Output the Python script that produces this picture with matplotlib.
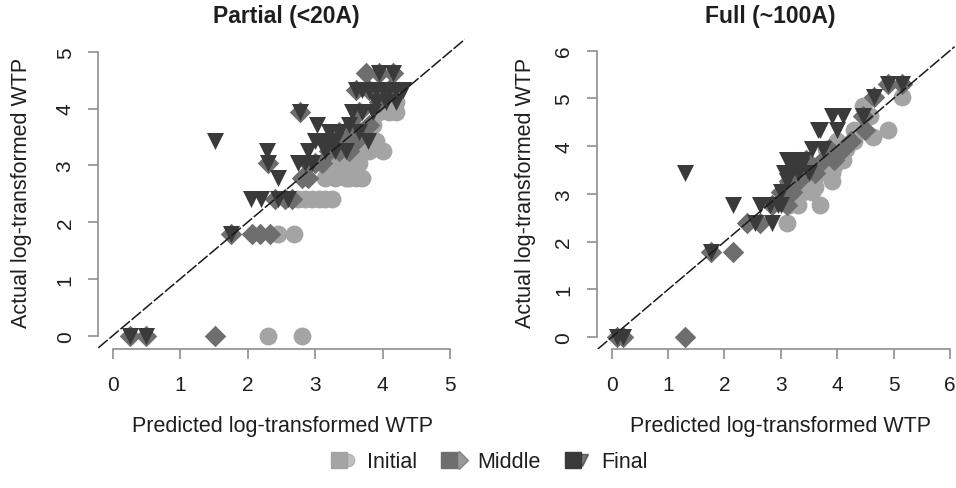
import numpy as np
import matplotlib
matplotlib.use("Agg")
import matplotlib.pyplot as plt
from matplotlib.lines import Line2D
from matplotlib.legend_handler import HandlerTuple

plt.rcParams['font.family'] = ['Liberation Sans', 'DejaVu Sans']

# ---- data: predicted (x) vs actual (y) log-transformed WTP
# Partial (<20A)
init_l_x = [2.3, 2.8, 2.45, 2.68, 2.75, 2.85, 2.95, 3.05, 3.15, 3.15, 3.3, 3.45, 3.6, 3.7,
            3.1, 3.25, 3.4, 3.55, 3.65, 3.35, 3.6, 3.8, 4.0, 3.5, 3.7, 3.9, 3.75, 3.85,
            3.95, 4.1, 4.2, 4.2, 4.05, 3.25, 3.5]
init_l_y = [0, 0, 1.79, 1.79, 2.4, 2.4, 2.4, 2.4, 2.4, 2.77, 2.77, 2.77, 2.77, 2.77,
            3.04, 3.04, 3.04, 3.04, 3.04, 3.26, 3.26, 3.26, 3.26, 3.43, 3.43, 3.43, 3.58, 3.71,
            3.93, 3.93, 3.93, 4.11, 4.11, 2.4, 2.77]
mid_l_x = [0.25, 0.5, 1.52, 1.76, 2.06, 2.18, 2.33, 2.4, 2.55, 2.65, 2.8, 2.9, 2.3, 2.9,
           3.0, 3.1, 3.2, 3.35, 3.5, 3.25, 3.4, 3.6, 3.35, 3.5, 3.7, 3.55, 3.8, 2.78, 3.65,
           3.95, 3.76, 3.95, 4.15, 3.6, 3.8, 4.1]
mid_l_y = [0, 0, 0, 1.79, 1.79, 1.79, 1.79, 2.4, 2.4, 2.4, 2.77, 2.77, 3.04, 3.04,
           3.04, 3.04, 3.26, 3.26, 3.26, 3.43, 3.43, 3.43, 3.58, 3.58, 3.58, 3.71, 3.71, 3.93, 3.93,
           4.11, 4.62, 4.62, 4.62, 4.33, 4.33, 4.33]
fin_l_x = [0.25, 0.5, 1.76, 2.05, 2.2, 2.45, 2.6, 2.45, 2.3, 2.28, 1.52, 2.78, 2.75, 2.85,
           2.95, 2.9, 3.0, 3.1, 3.2, 3.3, 3.02, 3.2, 3.35, 3.5, 3.65, 3.78, 3.45, 3.55, 3.7,
           3.85, 3.6, 3.7, 3.8, 3.9, 4.0, 4.1, 4.2, 4.3, 3.9, 4.05, 4.2, 3.95, 4.15, 3.15, 3.3]
fin_l_y = [0, 0, 1.79, 2.4, 2.4, 2.4, 2.4, 2.77, 3.04, 3.26, 3.43, 3.93, 3.04, 3.04,
           3.04, 3.26, 3.43, 3.43, 3.43, 3.43, 3.71, 3.58, 3.58, 3.71, 3.58, 3.43, 3.26, 3.93, 3.93,
           3.93, 4.33, 4.33, 4.33, 4.33, 4.33, 4.33, 4.33, 4.33, 4.11, 4.11, 4.11, 4.62, 4.62, 3.26, 3.26]

# Full (~100A)
init_r_x = [3.1, 3.15, 3.3, 3.7, 3.55, 3.4, 3.5, 3.3, 3.9, 3.7, 3.9, 3.6, 3.95, 4.1,
            3.8, 4.15, 4.0, 4.3, 4.3, 4.63, 4.9, 4.45, 4.58, 5.15, 3.25, 3.6, 3.85]
init_r_y = [2.4, 2.77, 2.77, 2.77, 3.04, 3.04, 3.26, 3.26, 3.26, 3.43, 3.43, 3.58, 3.58, 3.71,
            3.93, 3.93, 4.11, 4.11, 4.33, 4.2, 4.33, 4.84, 4.62, 5.02, 2.95, 3.15, 3.5]
mid_r_x = [0.1, 0.2, 1.3, 1.77, 2.16, 2.4, 2.63, 2.85, 3.1, 3.0, 3.2, 3.15, 3.3, 3.4,
           3.6, 3.3, 3.5, 3.45, 3.75, 3.95, 3.85, 4.1, 4.25, 4.5, 4.45, 4.65, 4.9, 5.15]
mid_r_y = [0, 0, 0, 1.79, 1.79, 2.4, 2.4, 2.77, 2.77, 3.04, 3.04, 3.26, 3.26, 3.43,
           3.43, 3.58, 3.58, 3.71, 3.71, 3.71, 3.93, 3.93, 4.11, 4.33, 4.62, 5.02, 5.3, 5.3]
fin_r_x = [0.1, 0.2, 1.3, 1.77, 2.15, 2.63, 2.8, 2.95, 2.85, 3.0, 3.1, 3.05, 3.15, 3.3,
           3.5, 3.2, 3.35, 3.1, 3.3, 3.4, 3.55, 3.75, 3.7, 3.65, 4.0, 3.9, 4.1, 4.45, 4.65,
           4.9, 5.15, 2.55, 3.0]
fin_r_y = [0, 0, 3.43, 1.79, 2.77, 2.77, 2.77, 2.77, 2.4, 3.04, 3.26, 3.43, 3.43, 3.43,
           3.43, 3.58, 3.58, 3.71, 3.71, 3.71, 3.93, 3.93, 4.33, 4.33, 4.33, 4.62, 4.62, 4.62, 5.02,
           5.3, 5.3, 2.4, 2.77]

stage_names = ['Initial', 'Middle', 'Final']
stage_colors = ['#a4a4a4', '#6e6e6e', '#3a3a3a']
stage_markers = ['o', 'D', 'v']
stage_sizes = [165, 120, 150]

panels = [
    ('Partial (<20A)', [(init_l_x, init_l_y), (mid_l_x, mid_l_y), (fin_l_x, fin_l_y)], 5),
    ('Full (~100A)', [(init_r_x, init_r_y), (mid_r_x, mid_r_y), (fin_r_x, fin_r_y)], 6),
]

W, H = 956, 489
fig = plt.figure(figsize=(W / 100, H / 100), dpi=100)

# axes boxes in pixels: left, right, top, bottom ; and data limits
boxes = [(98.3, 465.0, 38.5, 350.0, (-0.213, 5.22), (-0.234, 5.25)),
         (597.0, 954.6, 45.3, 350.0, (-0.26, 6.08), (-0.245, 6.13))]
title_x = [286, 770]
xlab_x = [282.5, 780]
ylab_x = [22, 525]

txt = '#1e1e1e'
spine_c = '#8f8f8f'

for (title, series, top), (l, r, t, b, xl, yl), tx, lx, ly in zip(panels, boxes, title_x, xlab_x, ylab_x):
    ax = fig.add_axes([l / W, 1 - b / H, (r - l) / W, (b - t) / H])
    ax.set_xlim(*xl)
    ax.set_ylim(*yl)
    for (xs, ys), c, m, s in zip(series, stage_colors, stage_markers, stage_sizes):
        ax.scatter(xs, ys, s=s, c=c, marker=m, linewidths=0, zorder=3)
    ax.axline((0, 0), slope=1, color='#1a1a1a', lw=1.1, ls=(0, (8, 1.5)), zorder=4)

    for side in ['top', 'right']:
        ax.spines[side].set_visible(False)
    ax.spines['left'].set_bounds(0, top)
    ax.spines['bottom'].set_bounds(0, top)
    for side in ['left', 'bottom']:
        ax.spines[side].set_color(spine_c)
        ax.spines[side].set_linewidth(1.2)
    ax.set_xticks(range(top + 1))
    ax.set_yticks(range(top + 1))
    ax.tick_params(axis='both', direction='out', length=7, width=1.2, color=spine_c,
                   labelsize=15, labelcolor=txt)
    ax.tick_params(axis='x', pad=12)
    ax.tick_params(axis='y', pad=10)
    for lab in ax.get_yticklabels():
        lab.set_rotation(90)
        lab.set_va('center')

    fig.text(tx / W, 1 - 16 / H, title, ha='center', va='center', fontsize=16.5,
             fontweight='bold', color=txt)
    fig.text(lx / W, 1 - 427 / H, 'Predicted log-transformed WTP', ha='center', va='center',
             fontsize=15.5, color=txt)
    fig.text(ly / W, 1 - 193 / H, 'Actual log-transformed WTP', ha='center', va='center',
             fontsize=15.5, color=txt, rotation=90)

handles = []
for c, m in zip(stage_colors, stage_markers):
    sq = Line2D([], [], marker='s', color=c, ls='none', markersize=11)
    mk = Line2D([], [], marker=m, color=c, ls='none', markersize=9, alpha=0.7)
    handles.append((sq, mk))
fig.legend(handles, stage_names, handler_map={tuple: HandlerTuple(ndivide=None, pad=-0.7)},
           ncol=3, loc='center', bbox_to_anchor=(487 / W, 1 - 463 / H), frameon=False,
           fontsize=15.5, handlelength=1.6, handletextpad=0.3, columnspacing=0.9,
           labelcolor=txt)

fig.savefig('out.png', dpi=100)
